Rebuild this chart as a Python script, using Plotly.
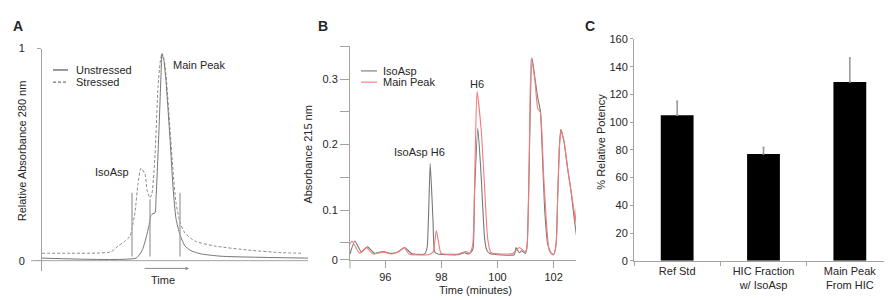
import plotly.graph_objects as go

# ---------------- Panel A data (arbitrary time units) ----------------
a_stressed_t = [0, 26, 56, 69, 76, 81, 83, 88, 90, 93, 96, 99, 103, 105, 108, 110, 113, 116, 118, 120, 122, 124, 128, 131, 134, 138, 143, 153, 173, 206, 239, 259]
a_stressed_v = [0.035, 0.035, 0.036, 0.042, 0.069, 0.085, 0.092, 0.115, 0.152, 0.228, 0.363, 0.436, 0.409, 0.333, 0.296, 0.318, 0.499, 0.816, 0.93, 0.979, 0.95, 0.876, 0.62, 0.424, 0.273, 0.182, 0.13, 0.092, 0.069, 0.05, 0.038, 0.035]
a_unstr_t = [0, 94, 98, 101, 104, 107, 109, 111, 113, 114, 117, 119, 120, 122, 124, 128, 131, 134, 138, 143, 149, 159, 179, 206, 266]
a_unstr_v = [0.012, 0.012, 0.032, 0.059, 0.107, 0.167, 0.213, 0.222, 0.225, 0.288, 0.62, 0.876, 0.974, 0.94, 0.846, 0.575, 0.348, 0.198, 0.122, 0.069, 0.047, 0.032, 0.021, 0.017, 0.012]
a_cut_t = [90, 108, 138]
a_cut_top = [0.32, 0.29, 0.32]
a_cut_bottom = 0.02

# ---------------- Panel B data (minutes, absorbance) ----------------
b_iso_t = [94.74, 94.91, 95.15, 95.36, 95.62, 95.92, 96.21, 96.45, 96.69, 96.93, 97.40, 97.49, 97.60, 97.70, 97.76, 97.88, 98.59, 98.83, 98.98, 99.12, 99.18, 99.30, 99.42, 99.54, 99.62, 99.72, 100.60, 100.66, 100.78, 100.86, 101.00, 101.06, 101.23, 101.34, 101.43, 101.53, 101.61, 101.69, 101.79, 101.91, 102.00, 102.09, 102.15, 102.21, 102.26, 102.38, 102.50, 102.62, 102.74, 102.82]
b_iso_v = [0.033, 0.053, 0.036, 0.044, 0.034, 0.037, 0.034, 0.036, 0.043, 0.034, 0.033, 0.043, 0.171, 0.084, 0.036, 0.033, 0.032, 0.035, 0.033, 0.040, 0.125, 0.225, 0.150, 0.057, 0.039, 0.034, 0.032, 0.043, 0.035, 0.038, 0.034, 0.048, 0.332, 0.300, 0.273, 0.251, 0.174, 0.096, 0.048, 0.034, 0.032, 0.048, 0.125, 0.198, 0.223, 0.203, 0.164, 0.130, 0.086, 0.060]
b_main_t = [94.74, 94.81, 95.09, 95.32, 95.56, 95.92, 96.21, 96.45, 96.67, 96.84, 97.52, 97.70, 97.82, 97.91, 97.99, 98.59, 98.88, 99.01, 99.12, 99.20, 99.27, 99.42, 99.54, 99.65, 99.77, 100.54, 100.78, 100.96, 101.04, 101.20, 101.34, 101.43, 101.53, 101.65, 101.77, 101.85, 102.00, 102.09, 102.15, 102.21, 102.26, 102.38, 102.50, 102.62, 102.74, 102.77, 102.82]
b_main_v = [0.048, 0.053, 0.034, 0.043, 0.033, 0.036, 0.033, 0.036, 0.043, 0.033, 0.032, 0.036, 0.069, 0.048, 0.034, 0.033, 0.037, 0.034, 0.048, 0.174, 0.281, 0.222, 0.135, 0.057, 0.035, 0.034, 0.043, 0.037, 0.040, 0.332, 0.296, 0.256, 0.249, 0.150, 0.067, 0.038, 0.032, 0.048, 0.125, 0.198, 0.223, 0.203, 0.164, 0.130, 0.096, 0.081, 0.106]
b_ytick_vals = [0.0243, 0.1, 0.2, 0.3]
b_ytick_text = ["0", "0.1", "0.2", "0.3"]
b_yminor_vals = [0.05, 0.15, 0.25, 0.35]
b_xtick_vals = [96, 98, 100, 102]

# ---------------- Panel C data ----------------
c_categories = ["Ref Std", "HIC Fraction<br>w/ IsoAsp", "Main Peak<br>From HIC"]
c_potency = [105, 77, 129]
c_error_plus = [10, 4.6, 17.3]

W, H = 892, 300
FONT = "Liberation Sans, Arial, sans-serif"
TXT = "#262626"
AX = "#a3a3a3"

def px(x):
    return x / W

def py(y):
    return 1 - y / H

fig = go.Figure()

# Panel A traces
fig.add_trace(go.Scatter(x=a_stressed_t, y=a_stressed_v, mode="lines", xaxis="x", yaxis="y",
                         line=dict(color="#8a8a8a", width=1, dash="3px,2px", shape="spline", smoothing=0.6),
                         showlegend=False, name="Stressed"))
fig.add_trace(go.Scatter(x=a_unstr_t, y=a_unstr_v, mode="lines", xaxis="x", yaxis="y",
                         line=dict(color="#767676", width=1, shape="spline", smoothing=0.6),
                         showlegend=False, name="Unstressed"))
cut_x, cut_y = [], []
for t, top in zip(a_cut_t, a_cut_top):
    cut_x += [t, t, None]
    cut_y += [a_cut_bottom, top, None]
fig.add_trace(go.Scatter(x=cut_x, y=cut_y, mode="lines", xaxis="x", yaxis="y",
                         line=dict(color="#a0a0a0", width=1.3), showlegend=False, hoverinfo="skip"))

# Panel B traces
fig.add_trace(go.Scatter(x=b_iso_t, y=b_iso_v, mode="lines", xaxis="x2", yaxis="y2",
                         line=dict(color="#777777", width=1.1, shape="spline", smoothing=0.5),
                         showlegend=False, name="IsoAsp"))
fig.add_trace(go.Scatter(x=b_main_t, y=b_main_v, mode="lines", xaxis="x2", yaxis="y2",
                         line=dict(color="#f47a7a", width=1.1, shape="spline", smoothing=0.5),
                         showlegend=False, name="Main Peak"))

# Panel C bars
fig.add_trace(go.Bar(x=c_categories, y=c_potency, xaxis="x3", yaxis="y3", width=0.38,
                     marker=dict(color="black", line=dict(width=0)),
                     error_y=dict(type="data", symmetric=False, array=c_error_plus,
                                  arrayminus=[0, 0, 0], color="#949494", thickness=1.5, width=1),
                     showlegend=False))

axis_common = dict(showgrid=False, zeroline=False, linecolor=AX, tickcolor=AX,
                   tickfont=dict(family=FONT, size=11, color=TXT))

fig.update_layout(
    width=W, height=H, margin=dict(l=0, r=0, t=0, b=0),
    paper_bgcolor="white", plot_bgcolor="white",
    font=dict(family=FONT, size=11, color=TXT),
    xaxis=dict(domain=[px(34), px(300)], range=[0, 266], showline=False, showticklabels=False,
               ticks="", showgrid=False, zeroline=False),
    yaxis=dict(domain=[py(268), py(36)], range=[-0.05, 1.0], showline=True, tickvals=[0, 1],
               ticktext=["0", "1"], ticks="outside", ticklen=4, ticklabelstandoff=10, **axis_common),
    xaxis2=dict(domain=[px(342), px(568)], range=[94.74, 102.8], showline=True, tickvals=b_xtick_vals,
                ticks="outside", ticklen=7, anchor="y2", **axis_common),
    yaxis2=dict(domain=[py(256), py(33.3)], range=[0.0243, 0.3505], showline=True, anchor="x2",
                tickvals=b_ytick_vals, ticktext=b_ytick_text, ticks="outside", ticklen=9,
                minor=dict(tickvals=b_yminor_vals, ticks="outside", ticklen=9, tickcolor=AX),
                **axis_common),
    xaxis3=dict(domain=[px(626), px(885)], showline=True, ticks="outside", ticklen=4,
                tickson="boundaries", anchor="y3", type="category", **axis_common),
    yaxis3=dict(domain=[py(257), py(26)], range=[0, 160], dtick=20, showline=True, anchor="x3",
                ticks="outside", ticklen=3, **axis_common),
)

shapes = [
    # Panel A zero baseline extending left of the axis
    dict(type="line", xref="x domain", yref="y", x0=-0.041, x1=1.0, y0=0, y1=0,
         line=dict(color=AX, width=1)),
    # Panel B y-axis extension below the x axis
    dict(type="line", xref="paper", yref="paper", x0=px(342), x1=px(342), y0=py(265), y1=py(256),
         line=dict(color=AX, width=1)),
    # Legend A
    dict(type="line", xref="paper", yref="paper", x0=px(45), x1=px(60), y0=py(58.3), y1=py(58.3),
         line=dict(color="#555555", width=1.2)),
    dict(type="line", xref="paper", yref="paper", x0=px(45), x1=px(60), y0=py(71), y1=py(71),
         line=dict(color="#777777", width=1.2, dash="3px,2px")),
    # Legend B
    dict(type="line", xref="paper", yref="paper", x0=px(353), x1=px(369), y0=py(59.3), y1=py(59.3),
         line=dict(color="#777777", width=1.1)),
    dict(type="line", xref="paper", yref="paper", x0=px(353), x1=px(369), y0=py(71), y1=py(71),
         line=dict(color="#f47a7a", width=1.1)),
]
fig.update_layout(shapes=shapes)

def txt(text, x, y, size=11, angle=0, xanchor="center", bold=False, xref="paper", yref="paper"):
    return dict(text=f"<b>{text}</b>" if bold else text, x=x, y=y, xref=xref, yref=yref,
                showarrow=False, textangle=angle, xanchor=xanchor, yanchor="middle",
                font=dict(family=FONT, size=size, color=TXT))

annotations = [
    txt("A", px(10), py(12), size=14, bold=True),
    txt("B", px(315), py(12), size=14, bold=True),
    txt("C", px(582), py(12), size=14, bold=True),
    txt("Relative Absorbance 280 nm", px(14), py(143), angle=-90),
    txt("Absorbance 215 nm", px(300.5), py(147), angle=-90),
    txt("% Relative Potency", px(593), py(133), angle=-90),
    txt("Time (minutes)", px(467), py(288)),
    txt("Time", px(155), py(277)),
    txt("Unstressed", px(66), py(58.3), xanchor="left"),
    txt("Stressed", px(66), py(71), xanchor="left"),
    txt("IsoAsp", px(373), py(59.3), xanchor="left"),
    txt("Main Peak", px(373), py(71), xanchor="left"),
    txt("IsoAsp", 70, 0.416, xref="x", yref="y"),
    txt("Main Peak", 156.5, 0.923, xref="x", yref="y"),
    txt("IsoAsp H6", 97.23, 0.189, xref="x2", yref="y2"),
    txt("H6", 99.26, 0.292, xref="x2", yref="y2"),
    # Time arrow under panel A
    dict(x=px(181), y=py(265), ax=-46, ay=0, xref="paper", yref="paper",
         axref="pixel", ayref="pixel", text="", showarrow=True, arrowhead=2, arrowsize=0.7,
         arrowwidth=1, arrowcolor="#8a8a8a"),
]
fig.update_layout(annotations=annotations)

fig.write_html("out.html")
